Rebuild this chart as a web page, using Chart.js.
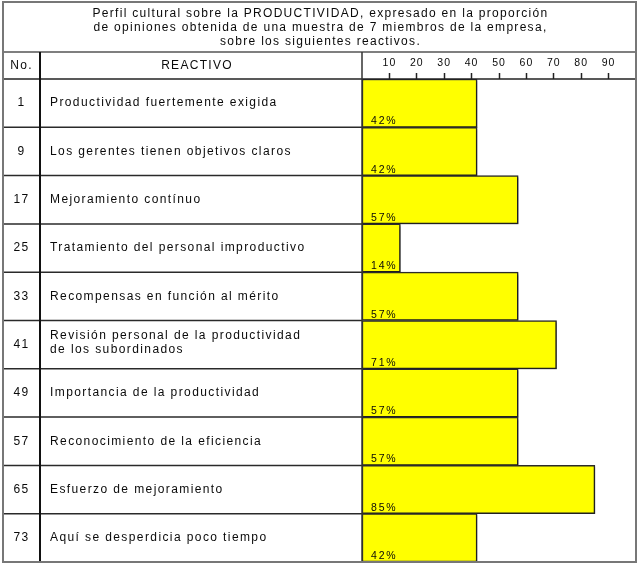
<!DOCTYPE html>
<html>
<head>
<meta charset="utf-8">
<script src="https://cdn.jsdelivr.net/npm/chart.js@4.4.1/dist/chart.umd.min.js"></script>
<style>
  html, body { margin: 0; padding: 0; background: #fff; }
  #wrap { width: 637px; height: 565px; }
</style>
</head>
<body>
<div id="wrap"><canvas id="perfil" width="637" height="565"></canvas></div>
<script>
// Título del cuadro
const titulo = [
  'Perfil cultural sobre la PRODUCTIVIDAD, expresado en la proporción',
  'de opiniones obtenida de una muestra de 7 miembros de la empresa,',
  'sobre los siguientes reactivos.'
];

// Número de cada reactivo
const numeros = ['1', '9', '17', '25', '33', '41', '49', '57', '65', '73'];

// Texto de cada reactivo (una lista cuando ocupa dos renglones)
const reactivos = [
  'Productividad fuertemente exigida',
  'Los gerentes tienen objetivos claros',
  'Mejoramiento contínuo',
  'Tratamiento del personal improductivo',
  'Recompensas en función al mérito',
  ['Revisión personal de la productividad', 'de los subordinados'],
  'Importancia de la productividad',
  'Reconocimiento de la eficiencia',
  'Esfuerzo de mejoramiento',
  'Aquí se desperdicia poco tiempo'
];

// Proporción de opiniones (%)
const porcentajes = [42, 42, 57, 14, 57, 71, 57, 57, 85, 42];

// Marcas de la escala superior
const marcas = [10, 20, 30, 40, 50, 60, 70, 80, 90];

const FUENTE = '"Liberation Sans", Arial, sans-serif';
const TINTA = '#0a0a0a';

// Límites de la tabla
const TABLA = { left: 3, right: 636, top: 2, bottom: 562, titleBottom: 52, colNo: 40 };

const tablaPlugin = {
  id: 'tabla',
  beforeDraw(chart) {
    const ctx = chart.ctx;
    ctx.save();
    ctx.fillStyle = '#fff';
    ctx.fillRect(0, 0, chart.width, chart.height);
    ctx.restore();
    ctx.letterSpacing = '1px';
  },
  beforeDatasetsDraw(chart) {
    const ctx = chart.ctx;
    ctx.save();
    ctx.shadowColor = 'rgba(0,0,0,0.35)';
    ctx.shadowOffsetX = 1.5;
    ctx.shadowOffsetY = 1.5;
    ctx.shadowBlur = 2;
  },
  afterDatasetsDraw(chart) {
    const ctx = chart.ctx;
    ctx.restore();
    // Etiquetas de porcentaje dentro de cada barra
    const meta = chart.getDatasetMeta(0);
    ctx.save();
    ctx.font = '10.5px ' + FUENTE;
    ctx.letterSpacing = '1.8px';
    ctx.fillStyle = TINTA;
    ctx.textAlign = 'left';
    ctx.textBaseline = 'alphabetic';
    meta.data.forEach((bar, i) => {
      const bottom = bar.y + bar.height / 2;
      ctx.fillText(porcentajes[i] + '%', chart.chartArea.left + 9, bottom - 3);
    });
    ctx.restore();
  },
  afterDraw(chart) {
    const ctx = chart.ctx;
    const area = chart.chartArea;
    const y = chart.scales.y;
    const n = numeros.length;
    ctx.save();

    // Títulos
    ctx.fillStyle = TINTA;
    ctx.font = '12px ' + FUENTE;
    ctx.letterSpacing = '1.3px';
    ctx.textAlign = 'center';
    ctx.textBaseline = 'middle';
    const cx = (TABLA.left + TABLA.right) / 2 + 1;
    titulo.forEach((t, i) => ctx.fillText(t, cx, 13.5 + i * 14));

    // Encabezados de columnas
    const hy = (TABLA.titleBottom + area.top) / 2;
    ctx.fillText('No.', (TABLA.left + TABLA.colNo) / 2, hy);
    ctx.fillText('REACTIVO', (TABLA.colNo + area.left) / 2 - 4, hy);

    // Renglones
    ctx.letterSpacing = '1.4px';
    const borde = i => {
      if (i <= 0) return area.top;
      if (i >= n) return area.bottom;
      return (y.getPixelForValue(i - 1) + y.getPixelForValue(i)) / 2;
    };
    for (let i = 0; i < n; i++) {
      const cy = y.getPixelForValue(i);
      ctx.textAlign = 'center';
      ctx.fillText(numeros[i], (TABLA.left + TABLA.colNo) / 2, cy);
      ctx.textAlign = 'left';
      const r = reactivos[i];
      if (Array.isArray(r)) {
        r.forEach((linea, k) => ctx.fillText(linea, TABLA.colNo + 10, cy + (k - (r.length - 1) / 2) * 14 - 2));
      } else {
        ctx.fillText(r, TABLA.colNo + 10, cy);
      }
    }

    // Líneas de los renglones (columnas de texto)
    ctx.strokeStyle = '#2a2a2a';
    ctx.lineWidth = 1.5;
    for (let i = 1; i < n; i++) {
      const by = borde(i);
      ctx.beginPath();
      ctx.moveTo(TABLA.left, by);
      ctx.lineTo(area.left, by);
      ctx.stroke();
    }

    // Línea bajo el título
    ctx.strokeStyle = '#555';
    ctx.beginPath();
    ctx.moveTo(TABLA.left, TABLA.titleBottom);
    ctx.lineTo(TABLA.right, TABLA.titleBottom);
    ctx.stroke();

    // Línea bajo los encabezados
    ctx.strokeStyle = '#222';
    ctx.beginPath();
    ctx.moveTo(TABLA.left, area.top);
    ctx.lineTo(TABLA.right, area.top);
    ctx.stroke();

    // Divisiones de columnas
    ctx.lineWidth = 2;
    ctx.strokeStyle = '#111';
    ctx.beginPath();
    ctx.moveTo(TABLA.colNo, TABLA.titleBottom);
    ctx.lineTo(TABLA.colNo, TABLA.bottom);
    ctx.stroke();
    ctx.strokeStyle = '#333';
    ctx.lineWidth = 1.5;
    ctx.beginPath();
    ctx.moveTo(area.left, TABLA.titleBottom);
    ctx.lineTo(area.left, TABLA.bottom);
    ctx.stroke();

    // Marco exterior
    ctx.strokeStyle = '#777';
    ctx.lineWidth = 2;
    ctx.strokeRect(TABLA.left, TABLA.top, TABLA.right - TABLA.left, TABLA.bottom - TABLA.top);
    ctx.restore();
  }
};

new Chart(document.getElementById('perfil'), {
  type: 'bar',
  data: {
    labels: numeros,
    datasets: [{
      data: porcentajes,
      backgroundColor: '#ffff00',
      borderColor: '#2b2b2b',
      borderWidth: 1.5,
      borderSkipped: false,
      categoryPercentage: 1,
      barPercentage: 1
    }]
  },
  options: {
    indexAxis: 'y',
    responsive: false,
    animation: false,
    devicePixelRatio: 1,
    layout: { padding: { top: 52, left: 362, right: 1, bottom: 3 } },
    plugins: { legend: { display: false }, tooltip: { enabled: false } },
    scales: {
      x: {
        type: 'linear',
        position: 'top',
        min: 0,
        max: 100,
        afterBuildTicks: scale => { scale.ticks = marcas.map(v => ({ value: v })); },
        afterFit: scale => { scale.height = 27; },
        border: { display: false },
        grid: {
          drawOnChartArea: false,
          drawTicks: true,
          tickLength: 6,
          tickWidth: 1.5,
          tickColor: '#222'
        },
        ticks: {
          color: TINTA,
          font: { family: FUENTE, size: 10.5 },
          padding: 4,
          maxRotation: 0,
          autoSkip: false
        }
      },
      y: {
        display: false
      }
    }
  },
  plugins: [tablaPlugin]
});
</script>
</body>
</html>
